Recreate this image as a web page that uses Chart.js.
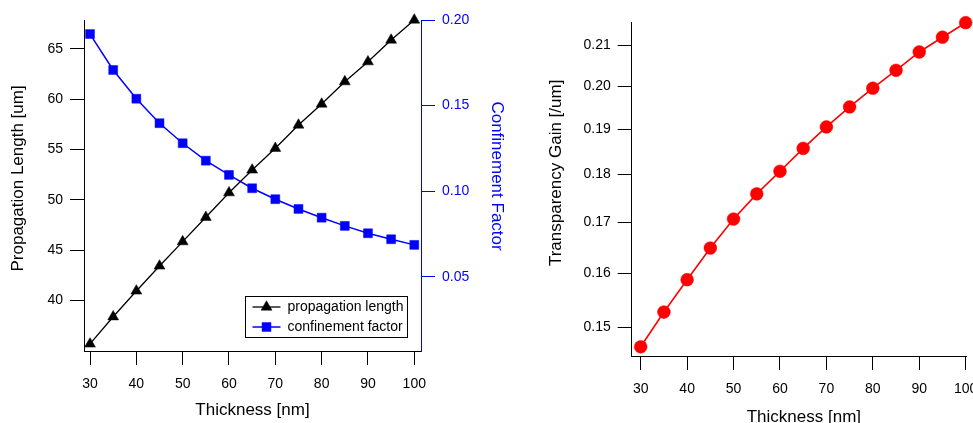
<!DOCTYPE html>
<html><head><meta charset="utf-8">
<script src="https://cdn.jsdelivr.net/npm/chart.js@4.4.1/dist/chart.umd.min.js"></script>
<style>
html,body{margin:0;padding:0;background:#fff;overflow:hidden;width:973px;height:423px;position:relative;}
#c1{position:absolute;left:0;top:0;}
#c2{position:absolute;left:540px;top:0;}
</style></head><body>
<canvas id="c1" width="511" height="423"></canvas>
<canvas id="c2" width="450" height="432"></canvas>
<script>
// ---- data ----
const thickness = [30,35,40,45,50,55,60,65,70,75,80,85,90,95,100];
const propagationLength = [35.7,38.4,40.96,43.44,45.85,48.27,50.71,52.97,55.12,57.43,59.51,61.73,63.71,65.86,67.85];
const confinementFactor = [0.1918,0.1708,0.1540,0.1397,0.1280,0.1178,0.1095,0.1017,0.0953,0.0896,0.0845,0.0797,0.0754,0.0719,0.0686];
const transparencyGain = [0.1466,0.1528,0.1588,0.1649,0.1707,0.1759,0.1807,0.1857,0.1905,0.1951,0.1995,0.2038,0.2083,0.2120,0.2157];
const thicknessTicks = [30,40,50,60,70,80,90,100];
const lengthTicks = [40,45,50,55,60,65];
const factorTicks = [0.05,0.10,0.15,0.20];
const gainTicks = [0.15,0.16,0.17,0.18,0.19,0.20,0.21];

// ---- helpers ----
const FONT = "'Liberation Sans', Arial, Helvetica, sans-serif";
const BLUE = '#0000ff';
const fixedWidth = w => s => { s.width = w; };
const fixedHeight = h => s => { s.height = h; };
const setTicks = vals => s => { s.ticks = vals.map(v => ({value: v})); };
const pts = ys => thickness.map((x, i) => ({x, y: ys[i]}));

function drawMarker(ctx, style, r, x, y) {
  if (Chart.helpers && Chart.helpers.drawPoint) {
    Chart.helpers.drawPoint(ctx, {pointStyle: style, radius: r, rotation: 0, borderWidth: 0.5}, x, y);
    return;
  }
  ctx.beginPath();
  if (style === 'triangle') {
    ctx.moveTo(x, y - r);
    ctx.lineTo(x + r * 0.866, y + r / 2);
    ctx.lineTo(x - r * 0.866, y + r / 2);
    ctx.closePath();
  } else if (style === 'rect') {
    const s = r * Math.SQRT1_2;
    ctx.rect(x - s, y - s, 2 * s, 2 * s);
  } else {
    ctx.arc(x, y, r, 0, Math.PI * 2);
  }
  ctx.fill();
}

const boxLegend = {
  id: 'boxLegend',
  afterDatasetsDraw(chart, args, o) {
    if (!o || !o.display) return;
    const ctx = chart.ctx, ca = chart.chartArea;
    const items = chart.data.datasets;
    ctx.save();
    ctx.font = o.fontSize + 'px ' + FONT;
    const textW = Math.max(...items.map(d => ctx.measureText(d.label).width));
    const w = o.textX + textW + o.padRight;
    const h = o.rowH * items.length + o.padV * 2;
    const x0 = Math.round(ca.right - o.margin - w) + 0.5;
    const y0 = Math.round(ca.bottom - o.margin - h) + 0.5;
    ctx.fillStyle = '#fff';
    ctx.fillRect(x0, y0, w, h);
    ctx.strokeStyle = '#000';
    ctx.lineWidth = 1;
    ctx.strokeRect(x0, y0, w, h);
    items.forEach((d, i) => {
      const cy = y0 + o.padV + o.rowH * (i + 0.5);
      ctx.strokeStyle = d.borderColor;
      ctx.lineWidth = d.borderWidth;
      ctx.beginPath();
      ctx.moveTo(x0 + o.lineX0, cy);
      ctx.lineTo(x0 + o.lineX1, cy);
      ctx.stroke();
      ctx.fillStyle = d.backgroundColor;
      ctx.strokeStyle = d.borderColor;
      ctx.lineWidth = 0.5;
      drawMarker(ctx, d.pointStyle, d.pointRadius, x0 + o.markX, cy);
      ctx.fillStyle = '#000';
      ctx.textAlign = 'left';
      ctx.textBaseline = 'middle';
      ctx.fillText(d.label, x0 + o.textX, cy + 0.5);
    });
    ctx.restore();
  }
};

const tickFont = {family: FONT, size: 14};
const titleFont = {family: FONT, size: 17};

// ---- left chart ----
new Chart(document.getElementById('c1'), {
  type: 'line',
  data: {
    datasets: [
      {label: 'propagation length', data: pts(propagationLength), yAxisID: 'y',
       borderColor: '#000', backgroundColor: '#000', borderWidth: 1.3,
       pointStyle: 'triangle', pointRadius: 6.3, pointBorderWidth: 0.5, clip: false, tension: 0},
      {label: 'confinement factor', data: pts(confinementFactor), yAxisID: 'y2',
       borderColor: BLUE, backgroundColor: BLUE, borderWidth: 1.5,
       pointStyle: 'rect', pointRadius: 6.3, pointBorderWidth: 0.5, clip: false, tension: 0}
    ]
  },
  options: {
    responsive: false, animation: false, devicePixelRatio: 1,
    layout: {padding: {top: 20, left: 0, right: 0, bottom: 0}},
    plugins: {
      legend: {display: false}, tooltip: {enabled: false},
      boxLegend: {display: true, fontSize: 14, margin: 14, rowH: 20, padV: 0.5,
                  lineX0: 7, lineX1: 35, markX: 21, textX: 42, padRight: 4}
    },
    scales: {
      x: {type: 'linear', min: 28.7, max: 101.45, bounds: 'data',
          afterBuildTicks: setTicks(thicknessTicks), afterFit: fixedHeight(72),
          grid: {drawOnChartArea: false, tickLength: 14, color: '#000', lineWidth: 1},
          border: {color: '#000', width: 1},
          ticks: {font: tickFont, color: '#000', padding: 10.5, autoSkip: false, maxRotation: 0},
          title: {display: true, text: 'Thickness [nm]', font: titleFont, color: '#000', padding: {top: 0, bottom: 2}}},
      y: {type: 'linear', position: 'left', min: 35, max: 67.85, bounds: 'data',
          afterBuildTicks: setTicks(lengthTicks), afterFit: fixedWidth(84),
          grid: {drawOnChartArea: false, tickLength: 14, color: '#000', lineWidth: 1},
          border: {color: '#000', width: 1},
          ticks: {font: tickFont, color: '#000', padding: 7, autoSkip: false},
          title: {display: true, text: '   Propagation Length [um]', font: titleFont, color: '#000', padding: {top: 7.8, bottom: 0}}},
      y2: {type: 'linear', position: 'right', min: 0.0066, max: 0.2, bounds: 'data',
          afterBuildTicks: setTicks(factorTicks), afterFit: fixedWidth(90),
          grid: {drawOnChartArea: false, tickLength: 14, color: BLUE, lineWidth: 1},
          border: {color: BLUE, width: 1},
          ticks: {font: tickFont, color: BLUE, padding: 7, autoSkip: false, callback: v => v.toFixed(2)},
          title: {display: true, text: 'Confinement Factor    ', font: titleFont, color: BLUE, padding: {top: 4, bottom: 0}}}
    }
  },
  plugins: [boxLegend]
});

// ---- right chart ----
new Chart(document.getElementById('c2'), {
  type: 'line',
  data: {
    datasets: [
      {label: 'transparency gain', data: pts(transparencyGain),
       borderColor: '#ff0000', backgroundColor: '#ff0000', borderWidth: 1.6,
       pointStyle: 'circle', pointRadius: 6.4, pointBorderWidth: 0.5, clip: false, tension: 0}
    ]
  },
  options: {
    responsive: false, animation: false, devicePixelRatio: 1,
    layout: {padding: {top: 22.7, left: 0, right: 23.4, bottom: 0}},
    plugins: {legend: {display: false}, tooltip: {enabled: false}},
    scales: {
      x: {type: 'linear', min: 28.06, max: 100.2, bounds: 'data',
          afterBuildTicks: setTicks(thicknessTicks), afterFit: fixedHeight(76),
          grid: {drawOnChartArea: false, tickLength: 14, color: '#000', lineWidth: 1},
          border: {color: '#000', width: 1},
          ticks: {font: tickFont, color: '#000', padding: 10.5, autoSkip: false, maxRotation: 0},
          title: {display: true, text: '  Thickness [nm]', font: titleFont, color: '#000', padding: {top: 0, bottom: 4}}},
      y: {type: 'logarithmic', position: 'left', min: 0.1450, max: 0.2157, bounds: 'data',
          afterBuildTicks: setTicks(gainTicks), afterFit: fixedWidth(91.7),
          grid: {drawOnChartArea: false, tickLength: 14, color: '#000', lineWidth: 1},
          border: {color: '#000', width: 1},
          ticks: {font: tickFont, color: '#000', padding: 7, autoSkip: false, callback: v => Number(v).toFixed(2)},
          title: {display: true, text: '       Transparency Gain [/um]', font: titleFont, color: '#000', padding: {top: 6.5, bottom: 0}}}
    }
  }
});
</script>
</body></html>
